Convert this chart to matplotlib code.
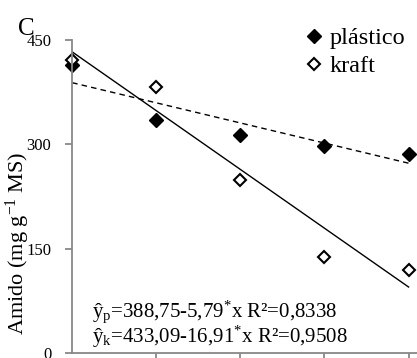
import matplotlib
matplotlib.use('Agg')
import matplotlib.pyplot as plt
import numpy as np

plt.rcParams['font.family'] = ['Liberation Serif', 'DejaVu Serif']
plt.rcParams['mathtext.fontset'] = 'custom'
plt.rcParams['mathtext.rm'] = 'Liberation Serif'
plt.rcParams['mathtext.it'] = 'Liberation Serif:italic'

# data
dias = [0, 5, 10, 15, 20]
plastico = [414, 335, 313, 297, 286]
kraft = [421, 382, 249, 138, 119]

# regression coefficients (intercept, slope)
coef_p = (388.75, -5.79)
coef_k = (433.09, -16.91)

fig = plt.figure(figsize=(4.17, 3.58), dpi=100)
ax = fig.add_axes([0.173, 0.014, 0.827, 0.874])

xx = np.array([dias[0], dias[-1]])
ax.plot(xx, coef_p[0] + coef_p[1] * xx, color='black', lw=1, ls=(0, (4, 3)))
ax.plot(xx, coef_k[0] + coef_k[1] * xx, color='black', lw=1)

ax.plot(dias, plastico, 'D', color='black', ms=7, label='plástico', clip_on=False)
ax.plot(dias, kraft, 'D', mfc='white', mec='black', mew=1.5, ms=6.5, label='kraft', clip_on=False)

ax.set_xlim(0, 20.5)
ax.set_ylim(0, 450)
ax.set_yticks([0, 150, 300, 450])
ax.set_xticks([5, 10, 15, 20])
ax.set_xticklabels([])
for s in ['top', 'right']:
    ax.spines[s].set_visible(False)
for s in ['left', 'bottom']:
    ax.spines[s].set_color('#888888')
    ax.spines[s].set_linewidth(1.3)
ax.tick_params(axis='y', colors='#888888', length=5, width=1.3, labelsize=12, pad=10,
               labelcolor='black')
ax.tick_params(axis='x', colors='#888888', length=4, width=1.3, direction='out')
ax.set_ylabel(r'Amido (mg g$^{-1}$ MS)', fontsize=16)
ax.yaxis.set_label_coords(-0.115, 0.35)

ax.text(0.058, 59, r'ŷ$_\mathrm{p}$=388,75-5,79$^{*}$x R²=0,8338', fontsize=15,
        va='center', transform=ax.get_yaxis_transform())
ax.text(0.058, 23, r'ŷ$_\mathrm{k}$=433,09-16,91$^{*}$x R²=0,9508', fontsize=15,
        va='center', transform=ax.get_yaxis_transform())

ax.legend(loc='upper left', bbox_to_anchor=(302 / 417, 1 - 27 / 358),
          bbox_transform=fig.transFigure, frameon=False, fontsize=17.5,
          handletextpad=0.15, handlelength=1.0, labelspacing=0.25, borderaxespad=0,
          borderpad=0)

fig.text(0.043, 0.918, 'C', fontsize=18, ha='left', va='center')

fig.savefig('out.png', dpi=100)
